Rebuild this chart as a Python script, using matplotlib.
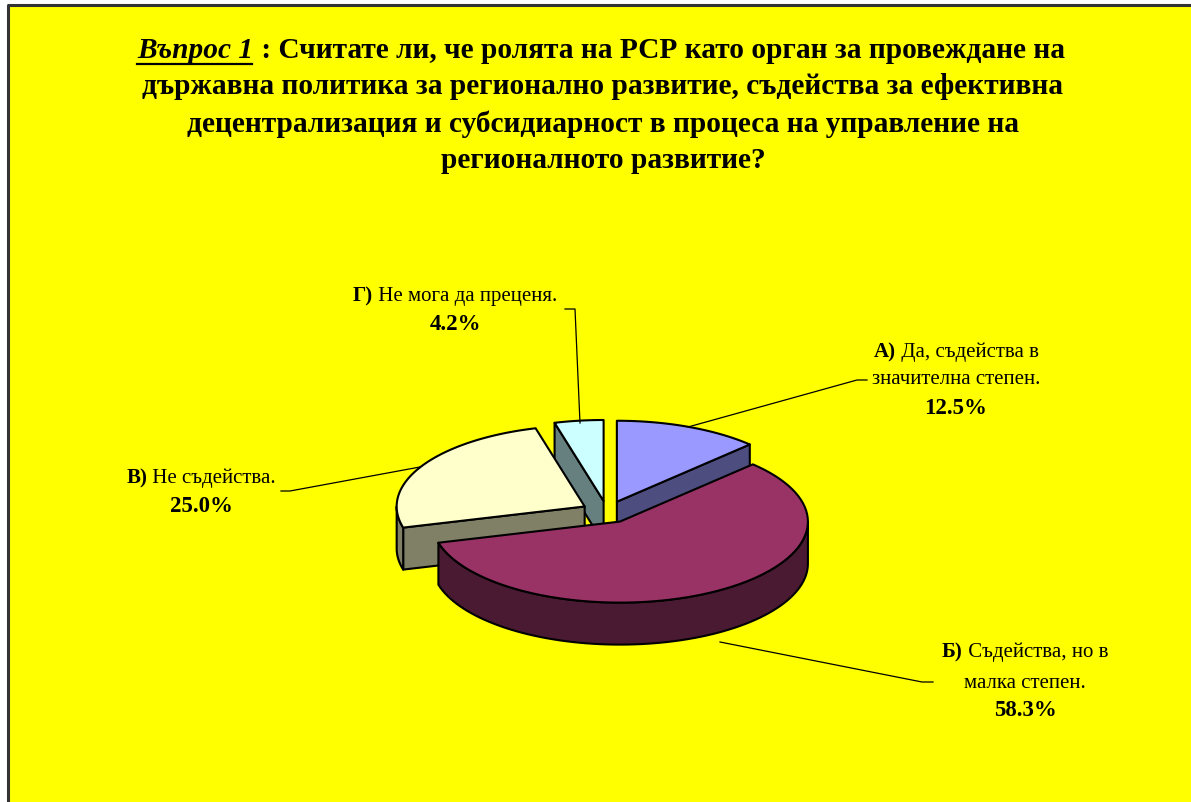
import numpy as np
import matplotlib.pyplot as plt
from matplotlib.patches import Polygon, Rectangle

# Data
values = [12.5, 58.3, 25.0, 4.2]
letters = ["А)", "Б)", "В)", "Г)"]
answers = [
    [" Да, съдейства в", "значителна степен."],
    [" Съдейства, но в", "малка степен."],
    [" Не съдейства."],
    [" Не мога да преценя."],
]
top_colors = ["#9999FF", "#993366", "#FFFFCC", "#CCFFFF"]
side_colors = ["#4D4D80", "#4A1A33", "#808066", "#668080"]

title_lines = [
    "държавна политика за регионално развитие, съдейства за ефективна",
    "децентрализация и субсидиарност в процеса на управление на",
    "регионалното развитие?",
]

# label centres and leader lines (pixels)
label_pos = [(956, 352), (1025, 652), (201, 478), (455, 296)]
leaders = [
    [(867, 380), (857, 380), (688, 427)],
    [(720, 642), (922, 682), (933, 682)],
    [(281, 491), (290, 491), (420, 467)],
    [(565, 309), (575, 309), (580, 423)],
]

# pie geometry in pixels
cx, cy, rx, ry, depth, explode = 607, 512, 188, 81, 42, 0.137

W, H = 1191, 802
fig = plt.figure(figsize=(W / 100, H / 100), dpi=100)
fig.patch.set_facecolor("white")
ax = fig.add_axes([0, 0, 1, 1])
ax.set_xlim(0, W)
ax.set_ylim(H, 0)
ax.axis("off")

ax.add_patch(Rectangle((8, 5), W, H, facecolor="#FFFF00", edgecolor="none", zorder=0))
ax.plot([8, 8, W], [H, 5, 5], color="#333333", lw=2.2, zorder=1, solid_capstyle="butt")

serif = "Liberation Serif"


def pt(ox, oy, th, z=0.0):
    t = np.radians(th)
    return (ox + rx * np.cos(t), oy - ry * np.sin(t) + z)


def arc(ox, oy, a, b, z=0.0, n=80):
    return [pt(ox, oy, th, z) for th in np.linspace(a, b, n)]


# slice bounds, start at 12 o'clock and go clockwise
total = sum(values)
slices = []
a = 90.0
for i, v in enumerate(values):
    span = 360.0 * v / total
    t1, t2 = a, a - span
    mid = (t1 + t2) / 2
    ox = cx + explode * rx * np.cos(np.radians(mid))
    oy = cy - explode * ry * np.sin(np.radians(mid))
    slices.append((i, t1, t2, ox, oy))
    a -= span

ek = dict(edgecolor="black", linewidth=1.5, joinstyle="round")

# walls, back to front
for i, t1, t2, ox, oy in sorted(slices, key=lambda s: s[4]):
    apex = (ox, oy)
    apex_b = (ox, oy + depth)
    for th, vis in ((t1, np.cos(np.radians(t1)) < -1e-6), (t2, np.cos(np.radians(t2)) > 1e-6)):
        if vis:
            r = pt(ox, oy, th)
            rb = pt(ox, oy, th, depth)
            ax.add_patch(Polygon([apex, r, rb, apex_b], closed=True,
                                 facecolor=side_colors[i], zorder=2, **ek))
    for k in (-1, 0, 1):
        lo = max(t2, -180 + 360 * k)
        hi = min(t1, 360 * k)
        if hi > lo:
            pts = arc(ox, oy, hi, lo) + arc(ox, oy, lo, hi, depth)
            ax.add_patch(Polygon(pts, closed=True, facecolor=side_colors[i],
                                 zorder=2, **ek))

# top faces
for i, t1, t2, ox, oy in slices:
    pts = [(ox, oy)] + arc(ox, oy, t1, t2)
    ax.add_patch(Polygon(pts, closed=True, facecolor=top_colors[i], zorder=3, **ek))

renderer = fig.canvas.get_renderer()


def mixed_line(parts, xc, y, size):
    """parts: list of (text, weight, style); drawn centred at xc."""
    objs = []
    for txt, wt, st in parts:
        t = ax.text(0, y, txt, fontsize=size, family=serif, weight=wt, style=st,
                    ha="left", va="center", zorder=5)
        objs.append(t)
    widths = [o.get_window_extent(renderer).width for o in objs]
    x = xc - sum(widths) / 2
    for o, w in zip(objs, widths):
        o.set_x(x)
        x += w
    return objs, widths


# title
tsize = 21.2
objs, widths = mixed_line([("Въпрос 1", "bold", "italic"),
                           (" : Считате ли, че ролята на РСР като орган за провеждане на", "bold", "normal")],
                          601, 50, tsize)
x0 = objs[0].get_position()[0]
ax.plot([x0, x0 + widths[0] - 2], [64, 64], color="black", lw=1.6, zorder=5)
for j, line in enumerate(title_lines):
    ax.text(603, 87 + 37 * j, line, fontsize=tsize, family=serif, weight="bold",
            ha="center", va="center", zorder=5)

# labels
lsize = 15
psize = 16.5
lh = 28
for i in range(len(values)):
    xc, y = label_pos[i]
    first = [(letters[i], "bold", "normal"), (answers[i][0], "normal", "normal")]
    mixed_line(first, xc, y, lsize)
    yy = y
    for extra in answers[i][1:]:
        yy += lh + 3 * (i == 1)
        ax.text(xc, yy, extra, fontsize=lsize, family=serif, ha="center", va="center", zorder=5)
    yy += lh
    ax.text(xc, yy, f"{values[i]:.1f}%", fontsize=psize, family=serif, weight="bold",
            ha="center", va="center", zorder=5)
    lx, ly = zip(*leaders[i])
    ax.plot(lx, ly, color="black", lw=0.9, zorder=4)

fig.savefig("out.png", dpi=100)
